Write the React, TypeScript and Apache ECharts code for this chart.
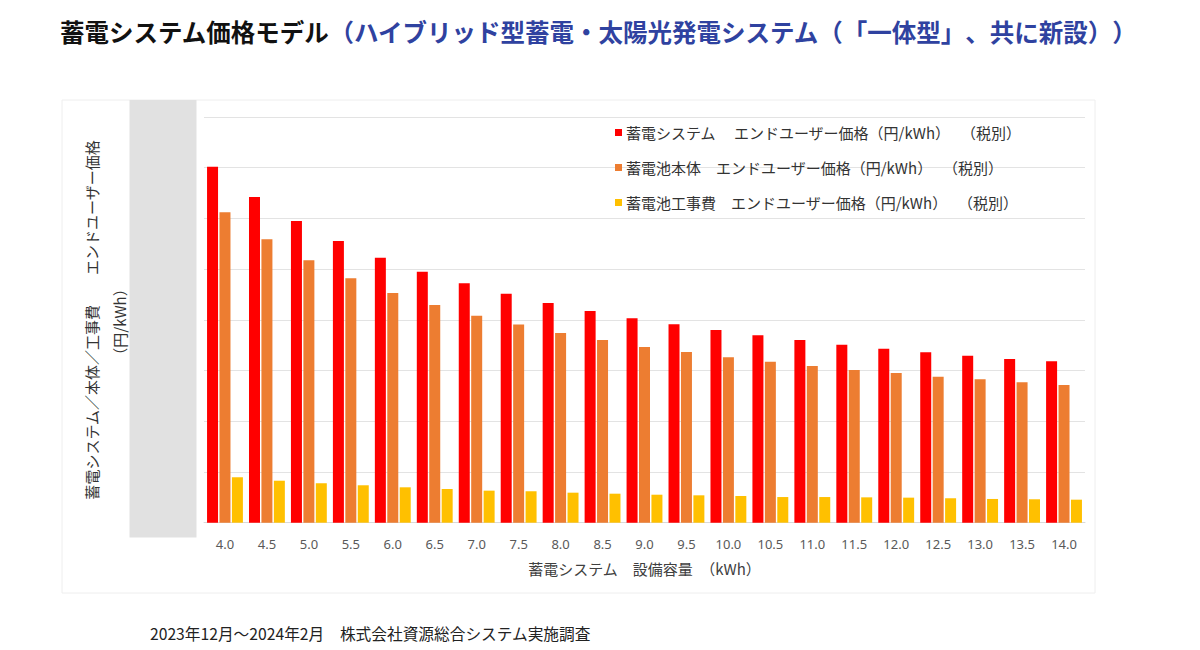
import React, { useEffect, useRef } from "react";
import * as echarts from "echarts";

const categories = ["4.0","4.5","5.0","5.5","6.0","6.5","7.0","7.5","8.0","8.5","9.0","9.5","10.0","10.5","11.0","11.5","12.0","12.5","13.0","13.5","14.0"];
const systemPrice = [351000,321200,297500,277800,261300,247500,236100,225800,216700,208800,201600,195700,190000,184800,180200,175500,171600,168000,164700,161400,159200];
const batteryPrice = [306100,279500,258800,241000,226500,214700,204100,195300,187100,180200,173300,168300,163100,158800,154500,150600,147600,144000,141400,138500,135800];
const installPrice = [44800,41400,38900,36900,34900,33200,31600,31000,29600,28600,27600,27000,26300,25300,25300,25000,24700,24100,23400,23100,22700];
const seriesNames = [
  "蓄電システム　 エンドユーザー価格（円/kWh）　 （税別）",
  "蓄電池本体　エンドユーザー価格（円/kWh）　 （税別）",
  "蓄電池工事費　エンドユーザー価格（円/kWh）　 （税別）",
];
const titleMain = "蓄電システム価格モデル";
const titleSub = "（ハイブリッド型蓄電・太陽光発電システム（\u200B「一体型」\u200B、共に新設）\u200B）";
const yName1 = "蓄電システム／本体／工事費　　エンドユーザー価格";
const yName2 = "（円/kWh）";
const xName = "蓄電システム　設備容量　（kWh）";
const footnote = "2023年12月～2024年2月　株式会社資源総合システム実施調査";

const JP = '"Noto Sans CJK JP", "Noto Sans", sans-serif';

export default function App() {
  const ref = useRef<HTMLDivElement>(null);
  useEffect(() => {
    if (!ref.current) return;
    const chart = echarts.init(ref.current, undefined, { renderer: "svg" });
    const colors = ["#ff0000", "#ed7d31", "#ffc000"];
    const data = [systemPrice, batteryPrice, installPrice];
    chart.setOption({
      animation: false,
      backgroundColor: "#ffffff",
      textStyle: { fontFamily: JP },
      title: {
        left: 55,
        top: 14,
        text: `{a|${titleMain}}{b|${titleSub}}`,
        textStyle: {
          rich: {
            a: { fontSize: 24.5, fontWeight: "bold", color: "#111111", fontFamily: JP },
            b: { fontSize: 24.5, fontWeight: "bold", color: "#2f42a0", fontFamily: JP },
          },
        },
      },
      legend: {
        orient: "vertical",
        left: 610,
        top: 120,
        itemWidth: 7,
        itemHeight: 7,
        itemGap: 20,
        icon: "rect",
        textStyle: { fontSize: 15, color: "#333333", fontFamily: JP, padding: [0, 0, 0, -1] },
        data: seriesNames,
      },
      grid: { left: 204, right: 115, top: 117, bottom: 127.3, containLabel: false },
      xAxis: {
        type: "category",
        data: categories,
        axisLine: { lineStyle: { color: "#d9d9d9" } },
        axisTick: { show: false },
        axisLabel: { color: "#595959", fontSize: 13, margin: 15, fontFamily: '"Noto Sans", sans-serif' },
        name: xName,
        nameLocation: "middle",
        nameGap: 38,
        nameTextStyle: { color: "#404040", fontSize: 15, fontFamily: JP },
      },
      yAxis: {
        type: "value",
        min: 0,
        max: 400000,
        interval: 50000,
        axisLabel: { show: false },
        axisLine: { show: false },
        axisTick: { show: false },
        splitLine: { lineStyle: { color: "#e3e3e3" } },
      },
      series: data.map((d, i) => ({
        name: seriesNames[i],
        type: "bar",
        data: d,
        barWidth: 11,
        barGap: "13%",
        itemStyle: { color: colors[i] },
      })),
      graphic: [
        {
          type: "rect",
          z: -10,
          shape: { x: 62, y: 100, width: 1033, height: 493 },
          style: { fill: "none", stroke: "#eeeeee", lineWidth: 1 },
        },
        {
          type: "rect",
          z: -5,
          shape: { x: 129.5, y: 100, width: 67, height: 437.5 },
          style: { fill: "#e1e1e1" },
        },
        {
          type: "text",
          x: 91,
          y: 320,
          rotation: Math.PI / 2,
          style: { text: yName1, fontSize: 15, fill: "#333333", fontFamily: JP, textAlign: "center", textVerticalAlign: "middle" },
        },
        {
          type: "text",
          x: 119,
          y: 322,
          rotation: Math.PI / 2,
          style: { text: yName2, fontSize: 15, fill: "#333333", fontFamily: JP, textAlign: "center", textVerticalAlign: "middle" },
        },
        {
          type: "text",
          x: 150,
          y: 633,
          style: { text: footnote, fontSize: 15.7, fill: "#222222", fontFamily: JP, textAlign: "left", textVerticalAlign: "middle" },
        },
      ],
    });
    return () => chart.dispose();
  }, []);
  return (
    <div
      ref={ref}
      style={{ position: "fixed", left: 0, top: 0, width: 1200, height: 650, background: "#fff" }}
    />
  );
}
